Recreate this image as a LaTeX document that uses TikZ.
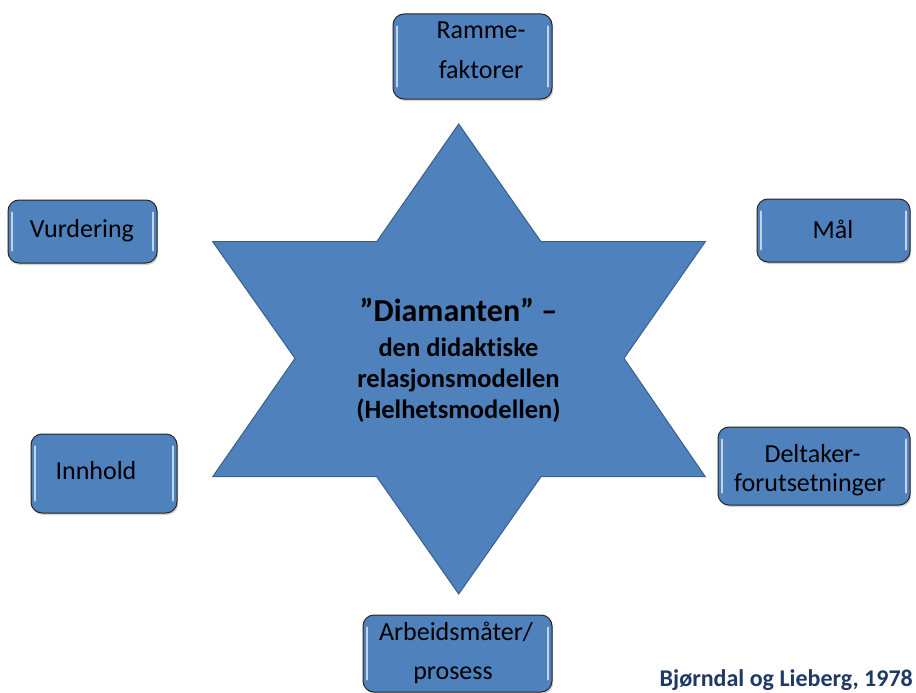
\documentclass[tikz,border=0pt]{standalone}
\usepackage{fontspec}
\setmainfont{Carlito}[Ligatures=NoCommon]
\usetikzlibrary{calc,shadows}
\definecolor{boxblue}{HTML}{4F81BD}
\definecolor{starline}{HTML}{3A5F8B}
\definecolor{navy}{HTML}{1F3864}
\tikzset{
  box/.style={draw=black!85, line width=1pt, rounded corners=11pt, fill=boxblue, inner sep=0pt,
    drop shadow={shadow xshift=1.2pt, shadow yshift=-2pt, opacity=0.35}},
  hlline/.style={line width=2.2pt, draw=white!65!boxblue, line cap=round},
  boxtext/.style={anchor=base, inner sep=0pt, font=\fontsize{26}{30}\selectfont},
  startext/.style={anchor=base, inner sep=0pt, font=\bfseries\fontsize{26.5}{30}\selectfont},
  starshape/.style={fill=boxblue, draw=starline, line width=1pt, line join=miter}
}
\newcommand{\boxhl}[1]{%
  \draw[hlline] ($(#1.north west)+(4.5,13)$) -- ($(#1.south west)+(4.5,-13)$);
  \draw[hlline] ($(#1.north east)+(-4.5,13)$) -- ($(#1.south east)+(-4.5,-13)$);
}
\begin{document}
\begin{tikzpicture}[x=1pt,y=-1pt]
\useasboundingbox (0,0) rectangle (916,693);
% star
\draw[starshape] (458.7,124) -- (541,241.7) -- (705.3,241.7) -- (624,358.3) -- (705.3,476.7)
  -- (541,476.7) -- (458.7,594) -- (376.7,476.7) -- (212.7,476.7) -- (295,358.3)
  -- (212.7,241.7) -- (376.7,241.7) -- cycle;
\node[startext, font=\bfseries\fontsize{32}{36}\selectfont] (s1) at (458.5,321.7) {”Diamanten” –};
\node[startext] (s2) at (458.5,356) {den didaktiske};
\node[startext] (s3) at (458.5,387.3) {relasjonsmodellen};
\node[startext] (s4) at (458.5,418.3) {(Helhetsmodellen)};
% boxes
\node[box, minimum width=159pt, minimum height=85pt] (ramme) at (472.5,56.5) {};
\node[box, minimum width=149pt, minimum height=63pt] (vurd) at (82.5,231.5) {};
\node[box, minimum width=153pt, minimum height=63pt] (maal) at (833.5,230.5) {};
\node[box, minimum width=146pt, minimum height=79pt] (innh) at (104,473.5) {};
\node[box, minimum width=192pt, minimum height=78pt] (delt) at (814,466) {};
\node[box, minimum width=189pt, minimum height=77pt] (arb) at (457.5,653.5) {};
\boxhl{ramme}\boxhl{vurd}\boxhl{maal}\boxhl{innh}\boxhl{delt}\boxhl{arb}
% box texts
\node[boxtext] (ramme1) at (481,38.5) {Ramme-};
\node[boxtext] (ramme2) at (481,78.5) {faktorer};
\node[boxtext] (vurd1) at (82,237) {Vurdering};
\node[boxtext] (maal1) at (833,238) {Mål};
\node[boxtext] (innh1) at (96,479) {Innhold};
\node[boxtext] (delt1) at (812.5,462) {Deltaker-};
\node[boxtext] (delt2) at (810,491) {forutsetninger};
\node[boxtext] (arb1) at (456,640) {Arbeidsmåter/};
\node[boxtext] (arb2) at (453,679) {prosess};
% citation
\node[anchor=base east, inner sep=0pt, text=navy, font=\bfseries\fontsize{24}{28}\selectfont] (cite) at (913,686) {Bjørndal og Lieberg, 1978};
\end{tikzpicture}
\end{document}
